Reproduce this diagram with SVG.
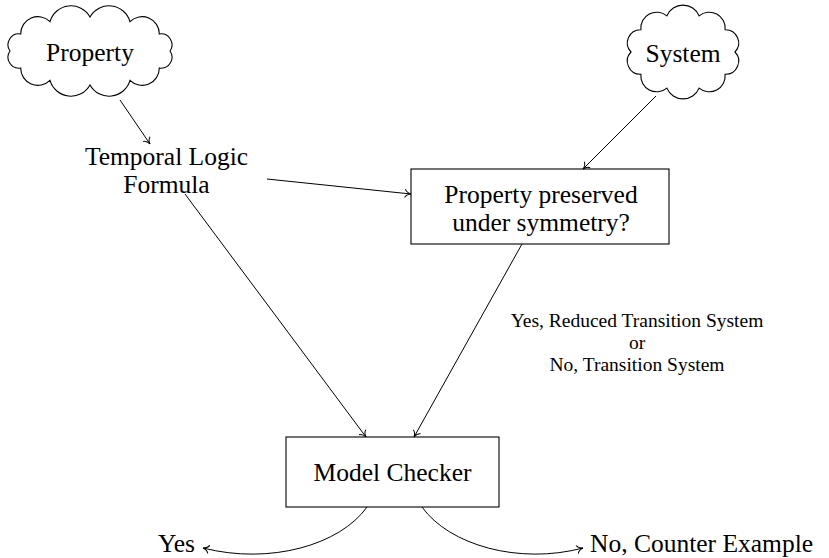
<svg xmlns="http://www.w3.org/2000/svg" width="829" height="558" viewBox="0 0 829 558">
  <style>
    .txt { font-family: "Liberation Serif", "Times New Roman", serif; font-size: 25.5px; fill: #000; text-anchor: middle; }
    .lbl { font-family: "Liberation Serif", "Times New Roman", serif; font-size: 19.5px; fill: #000; text-anchor: middle; }
    .shape { fill: #fff; stroke: #000; stroke-width: 1.1; }
    .edge { fill: none; stroke: #000; stroke-width: 1; marker-end: url(#to); }
  </style>
  <defs>
    <marker id="to" viewBox="-8 -6 10 12" refX="0" refY="0" markerWidth="10" markerHeight="12" markerUnits="userSpaceOnUse" orient="auto">
      <path d="M-6,-4.2 C-5,-1.6 -2,-0.4 0,0 C-2,0.4 -5,1.6 -6,4.2" fill="none" stroke="#000" stroke-width="1"/>
    </marker>
  </defs>
  <rect width="829" height="558" fill="#fff"/>

  <g id="property">
    <path class="shape" d="M170,51 A10.9,10.9 0 0 1 159.3,68 A17.2,17.2 0 0 1 130,80.4 A21.8,21.8 0 0 1 90,85 A21.8,21.8 0 0 1 50,80.4 A17.2,17.2 0 0 1 20.7,68 A10.9,10.9 0 0 1 10,51 A10.9,10.9 0 0 1 20.7,34 A17.2,17.2 0 0 1 50,21.6 A21.8,21.8 0 0 1 90,17 A21.8,21.8 0 0 1 130,21.6 A17.2,17.2 0 0 1 159.3,34 A10.9,10.9 0 0 1 170,51 Z"/>
    <text class="txt" x="90" y="61">Property</text>
  </g>

  <g id="system">
    <path class="shape" d="M735,52 A13.2,13.2 0 0 1 725.1,74.3 A15.9,15.9 0 0 1 699.1,88.1 A17.4,17.4 0 0 1 666.9,88.1 A15.9,15.9 0 0 1 640.9,74.3 A13.2,13.2 0 0 1 631,52 A13.2,13.2 0 0 1 640.9,29.7 A15.9,15.9 0 0 1 666.9,15.9 A17.4,17.4 0 0 1 699.1,15.9 A15.9,15.9 0 0 1 725.1,29.7 A13.2,13.2 0 0 1 735,52 Z"/>
    <text class="txt" x="683" y="62">System</text>
  </g>

  <g id="formula">
    <text class="txt" x="166.5" y="165">Temporal Logic</text>
    <text class="txt" x="166.5" y="193">Formula</text>
  </g>

  <g id="symmetry-check">
    <rect class="shape" x="411" y="169" width="258" height="75"/>
    <text class="txt" x="541" y="203">Property preserved</text>
    <text class="txt" x="541" y="231">under symmetry?</text>
  </g>

  <g id="model-checker">
    <rect class="shape" x="286" y="437" width="213" height="70"/>
    <text class="txt" x="392.5" y="481">Model Checker</text>
  </g>

  <g id="out-yes">
    <text class="txt" x="195" y="552" style="text-anchor:end">Yes</text>
  </g>

  <g id="out-no">
    <text class="txt" x="590" y="552" style="text-anchor:start">No, Counter Example</text>
  </g>

  <g id="edge-label">
    <text class="lbl" x="637" y="327">Yes, Reduced Transition System</text>
    <text class="lbl" x="637" y="349">or</text>
    <text class="lbl" x="637" y="371">No, Transition System</text>
  </g>

  <g id="connectors">
    <path class="edge" d="M120,100 L150,144"/>
    <path class="edge" d="M656,96 L583,169"/>
    <path class="edge" d="M267,179 L411,194"/>
    <path class="edge" d="M185,194 L366,437"/>
    <path class="edge" d="M522,244 L414,437"/>
    <path class="edge" d="M367,507 C340,545 270,565 203,548"/>
    <path class="edge" d="M422,507 C449,545 519,565 583,548"/>
  </g>
</svg>
